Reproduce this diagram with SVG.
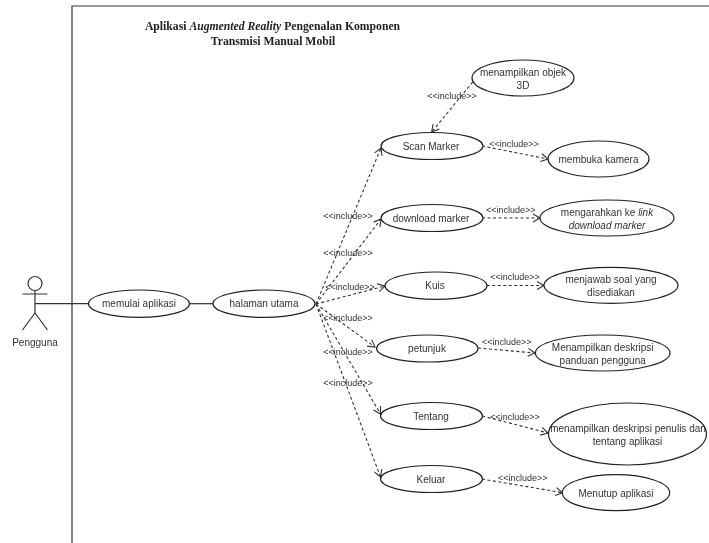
<svg xmlns="http://www.w3.org/2000/svg" width="709" height="543" viewBox="0 0 709 543">
<style>
text{font-family:"Liberation Sans",Arial,sans-serif;font-size:10px;fill:#333;text-anchor:middle;dominant-baseline:central}
.l{font-size:9px}
.t{font-family:"Liberation Serif","Times New Roman",serif;font-size:11.7px;font-weight:bold;fill:#222}
ellipse{fill:#fff;stroke:#222;stroke-width:1.2}
.s{stroke:#333;stroke-width:1.2;fill:none}
#connectors path{stroke:#333;stroke-width:1.1;fill:none;stroke-dasharray:3 2.500;marker-end:url(#a)}
</style>
<defs>
<marker id="a" markerUnits="userSpaceOnUse" markerWidth="10" markerHeight="10" refX="8" refY="5" orient="auto" overflow="visible">
<path d="M1 1L8 5L1 9" fill="none" stroke="#333" stroke-width="1.100"/>
</marker>
<filter id="b" x="-2%" y="-2%" width="104%" height="104%"><feGaussianBlur stdDeviation="0.6"/></filter>
</defs>
<rect width="709" height="543" fill="#fff"/>
<g filter="url(#b)">
<path id="frame" class="s" d="M72 543V6H709"/>
<g id="title">
<text class="t" x="272.500" y="26">Aplikasi <tspan font-style="italic">Augmented Reality</tspan> Pengenalan Komponen</text>
<text class="t" x="273" y="41">Transmisi Manual Mobil</text>
</g>
<g id="connectors">
<line class="s" x1="35" y1="303.700" x2="89" y2="303.700"/>
<line class="s" x1="189" y1="303.700" x2="213" y2="303.700"/>
<path d="M316 304L381 148"/>
<path d="M316 304L381 219"/>
<path d="M316 304L385 286"/>
<path d="M316 304L375 347"/>
<path d="M316 304L380.500 414"/>
<path d="M316 304L380.500 477"/>
<path d="M472.700 82L431.700 132"/>
<path d="M482 146L548 159"/>
<path d="M482 218H540"/>
<path d="M486.700 285.500H544"/>
<path d="M478 348L535 353"/>
<path d="M482.300 416L548 433"/>
<path d="M482 479L562.700 492.700"/>
</g>
<g id="labels">
<text class="l" x="348" y="216">&lt;&lt;include&gt;&gt;</text>
<text class="l" x="348" y="253">&lt;&lt;include&gt;&gt;</text>
<text class="l" x="350" y="286.500">&lt;&lt;include&gt;&gt;</text>
<text class="l" x="348" y="317.700">&lt;&lt;include&gt;&gt;</text>
<text class="l" x="348" y="352">&lt;&lt;include&gt;&gt;</text>
<text class="l" x="348" y="383">&lt;&lt;include&gt;&gt;</text>
<text class="l" x="452" y="96">&lt;&lt;include&gt;&gt;</text>
<text class="l" x="514" y="144">&lt;&lt;include&gt;&gt;</text>
<text class="l" x="510.700" y="210">&lt;&lt;include&gt;&gt;</text>
<text class="l" x="515" y="277">&lt;&lt;include&gt;&gt;</text>
<text class="l" x="506.700" y="342">&lt;&lt;include&gt;&gt;</text>
<text class="l" x="515" y="416.700">&lt;&lt;include&gt;&gt;</text>
<text class="l" x="522.700" y="478">&lt;&lt;include&gt;&gt;</text>
</g>
<g id="actor">
<circle class="s" cx="35" cy="283.500" r="7"/>
<path class="s" d="M35 290.500V313M22.500 294H47.500M35 313L22.500 330M35 313L47.500 330"/>
<text x="35" y="342.700">Pengguna</text>
</g>
<g id="memulai"><ellipse cx="139" cy="303.700" rx="50.500" ry="13.700"/><text x="139" y="303.700">memulai aplikasi</text></g>
<g id="halaman"><ellipse cx="264" cy="303.700" rx="51" ry="13.700"/><text x="264" y="303.700">halaman utama</text></g>
<g id="objek"><ellipse cx="523" cy="78" rx="51" ry="18"/><text x="523" y="72.500">menampilkan objek</text><text x="523" y="85.500">3D</text></g>
<g id="scan"><ellipse cx="432" cy="146" rx="51" ry="13.500"/><text x="431" y="146">Scan Marker</text></g>
<g id="kamera"><ellipse cx="598.500" cy="159" rx="50.500" ry="18"/><text x="598.500" y="159.500">membuka kamera</text></g>
<g id="download"><ellipse cx="432" cy="218" rx="51" ry="13.500"/><text x="431" y="218">download marker</text></g>
<g id="link"><ellipse cx="607" cy="218" rx="67" ry="18"/><text x="607" y="212">mengarahkan ke <tspan font-style="italic">link</tspan></text><text x="607" y="225" font-style="italic">download marker</text></g>
<g id="kuis"><ellipse cx="436" cy="285.700" rx="51" ry="13.700"/><text x="435" y="285.700">Kuis</text></g>
<g id="soal"><ellipse cx="611" cy="285.300" rx="67" ry="18"/><text x="611" y="279.500">menjawab soal yang</text><text x="611" y="292">disediakan</text></g>
<g id="petunjuk"><ellipse cx="427.300" cy="348.500" rx="50.700" ry="13.500"/><text x="427" y="348.500">petunjuk</text></g>
<g id="panduan"><ellipse cx="602.700" cy="353" rx="67.300" ry="18"/><text x="602.700" y="347">Menampilkan deskripsi</text><text x="602.700" y="360">panduan pengguna</text></g>
<g id="tentang"><ellipse cx="431.500" cy="416" rx="51" ry="13.500"/><text x="431" y="416">Tentang</text></g>
<g id="penulis"><ellipse cx="627.500" cy="434" rx="79" ry="31"/><text x="628" y="428">menampilkan deskripsi penulis dan</text><text x="627.500" y="441">tentang aplikasi</text></g>
<g id="keluar"><ellipse cx="431.500" cy="479" rx="51" ry="13.500"/><text x="431" y="479">Keluar</text></g>
<g id="menutup"><ellipse cx="616" cy="492.700" rx="53.700" ry="18"/><text x="616" y="493">Menutup aplikasi</text></g>
</g>
</svg>
